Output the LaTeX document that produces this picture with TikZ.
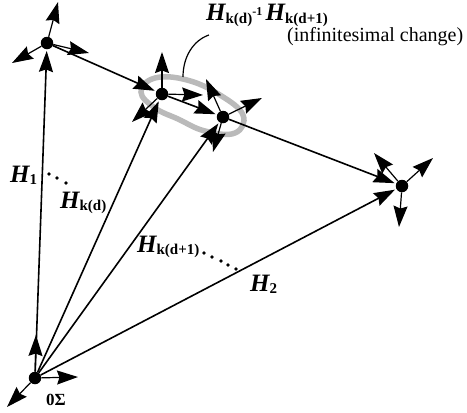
\documentclass[tikz,border=0pt]{standalone}
\usepackage{fontspec}
\setmainfont{Liberation Serif}
\usetikzlibrary{arrows.meta}
\newcommand{\bigH}{{\fontsize{25}{26}\selectfont\bfseries\itshape H}}
\newcommand{\subk}[1]{\raisebox{-2.5pt}{\fontsize{15}{16}\selectfont\bfseries #1}}
\tikzset{
  x=1pt,y=-1pt,
  frame/.style={black,line width=1.2pt,-{Stealth[length=21pt,width=14pt,inset=2.5pt]}},
  link/.style={frame,line width=1.6pt,shorten >=1.5pt},
  dotnode/.style={circle,fill=black,inner sep=0pt,minimum size=12.5pt},
  lab/.style={inner sep=0pt,font=\fontsize{20}{24}\selectfont},
  smalldot/.style={circle,fill=black,inner sep=0pt,minimum size=3.6pt},
}
\begin{document}
\begin{tikzpicture}
\useasboundingbox (0,0) rectangle (467,413);
\draw[line width=5.5pt,color=black!27] plot[smooth cycle,tension=0.7] coordinates {(141,92)(155,78)(187,80)(220,95)(243,115)(235,133)(205,131)(178,119)(155,108)};
\node[dotnode] (A) at (47,43) {};
\node[dotnode] (B) at (162,94) {};
\node[dotnode] (C) at (223,117) {};
\node[dotnode] (D) at (402,186) {};
\node[dotnode] (O) at (35,378) {};
\coordinate (Au) at (58,2);
\coordinate (Al) at (12,63);
\coordinate (Ar) at (89,53);
\coordinate (Bu) at (162,52);
\coordinate (Br) at (203,95);
\coordinate (Bl) at (132,122);
\coordinate (Cu) at (206,79);
\coordinate (Cr) at (262,98);
\coordinate (Cd) at (213,152);
\coordinate (Du) at (374,153);
\coordinate (Dr) at (433,158);
\coordinate (Dd) at (399,227);
\coordinate (Ou) at (36,335);
\coordinate (Or) at (78,377);
\coordinate (Ol) at (7,407);
\foreach \n/\t in {A/Au,A/Al,A/Ar,B/Bu,B/Br,B/Bl,C/Cu,C/Cr,C/Cd,D/Du,D/Dr,D/Dd,O/Ou,O/Or,O/Ol}
  \draw[frame] (\n) -- (\t);
\draw[link] (O) -- (A);
\draw[link] (O) -- (B);
\draw[link] (O) -- (C);
\draw[link] (O) -- (D);
\draw[link] (A) -- (B);
\draw[link] (B) -- (C);
\draw[link] (C) -- (D);
\coordinate (cs) at (183,77);
\coordinate (ce) at (209,35);
\draw[black,line width=1.2pt] (cs) .. controls (183,56) and (194,40) .. (ce);
\node[lab,anchor=base west] (t1) at (206,20.5) {\bigH\subk{k(d)}\raisebox{5pt}{\fontsize{12}{14}\selectfont\bfseries -1}\,\bigH\subk{k(d+1)}};
\node[lab,anchor=base west] (t2) at (287,41) {(infinitesimal change)};
\node[lab,anchor=base west] (h1) at (10,182) {\bigH\subk{1}};
\node[lab,anchor=base west] (hd) at (60,208) {\bigH\subk{k(d)}};
\node[lab,anchor=base west] (hd1) at (137,252) {\bigH\subk{k(d+1)}};
\node[lab,anchor=base west] (h2) at (250,291) {\bigH\subk{2}};
\node[lab,anchor=base west] (zero) at (46,405) {\fontsize{17}{18}\selectfont\bfseries 0Σ};
\foreach \i/\x/\y in {1/49/174,2/57/178,3/66/183,4/204/253,5/212/257,6/221/261,7/228/265,8/236/269}
  \node[smalldot] (d\i) at (\x,\y) {};
\end{tikzpicture}
\end{document}
